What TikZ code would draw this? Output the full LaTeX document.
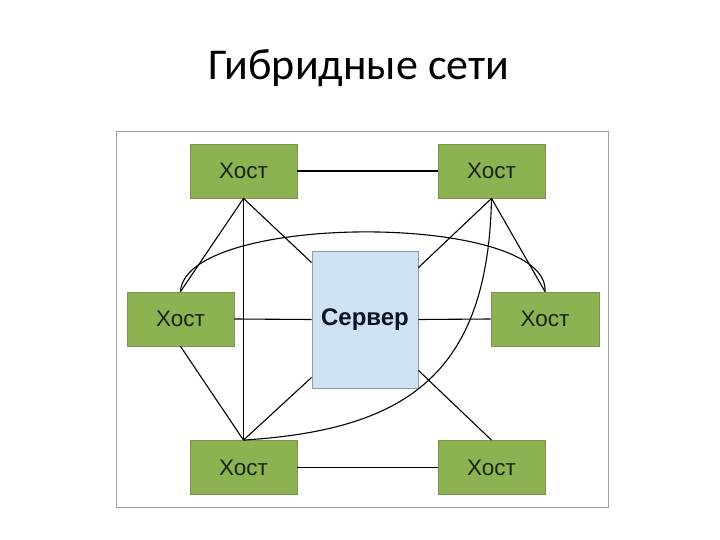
\documentclass[tikz,border=0pt]{standalone}
\usepackage{fontspec}
\setmainfont{Liberation Sans}
\newfontfamily\titlefont{Carlito}
\begin{document}
\begin{tikzpicture}[x=1pt,y=-1pt,
  host/.style={draw=hostborder,fill=hostfill,line width=0.8pt,minimum width=107pt,minimum height=54pt,inner sep=0pt,font=\fontsize{22.5}{24}\selectfont,text=hosttext},
  server/.style={draw=serverborder,fill=serverfill,line width=0.8pt,minimum width=106pt,minimum height=137pt,inner sep=0pt,font=\fontsize{24}{26}\selectfont\bfseries,text=servertext},
  link/.style={draw=black,line width=1.1pt}]
\definecolor{hostfill}{RGB}{140,178,82}
\definecolor{hostborder}{RGB}{120,150,80}
\definecolor{hosttext}{RGB}{25,35,15}
\definecolor{serverfill}{RGB}{207,226,243}
\definecolor{serverborder}{RGB}{140,155,170}
\definecolor{servertext}{RGB}{10,20,35}
\useasboundingbox (0,0) rectangle (720,540);
\node[font=\titlefont\fontsize{44}{50}\selectfont] (title) at (359,68) {Гибридные сети};
\draw[draw=black!38,line width=0.8pt] (116,131.5) rectangle (608.5,507);
\node[host] (tl) at (243.5,171) {Хост};
\node[host] (tr) at (491.5,171) {Хост};
\node[host] (l) at (180.5,319) {Хост};
\node[host,minimum width=108pt] (r) at (545,319) {Хост};
\node[host] (bl) at (243.5,467.5) {Хост};
\node[host] (br) at (491.5,467.5) {Хост};
\node[server] (s) at (365,319.5) {Сервер};
\path[link] (tl.east) -- (tr.west);
\path[link] (bl.east) -- (br.west);
\path[link] (l.east) -- (s.west);
\path[link] (s.east) -- (r.west);
\path[link] (tl.south) -- (bl.north);
\path[link] (tl.south) -- (l.north);
\path[link] (tl.south) -- ([yshift=-12pt]s.north west);
\path[link] (tr.south) -- ([yshift=-17pt]s.north east);
\path[link] (tr.south) -- (r.north);
\path[link] (l.south) -- (bl.north);
\path[link] ([yshift=11pt]s.south west) -- (bl.north);
\path[link] ([yshift=18pt]s.south east) -- (br.north);
\path[link] (l.north) .. controls (185,212) and (550,212) .. (r.north);
\path[link] (tr.south) .. controls (488,380) and (400,430) .. (bl.north);
\end{tikzpicture}
\end{document}
